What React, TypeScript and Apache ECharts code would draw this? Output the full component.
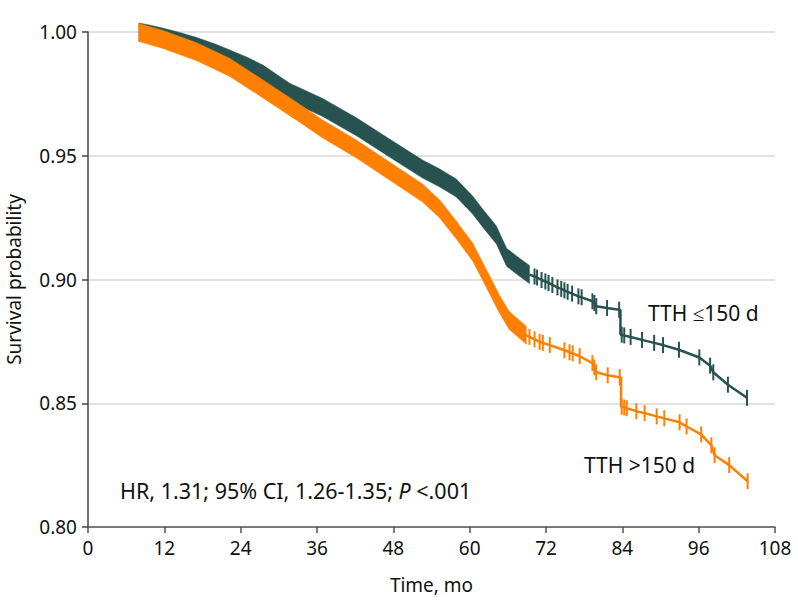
import React, { useEffect, useRef } from "react";
import * as echarts from "echarts";

// ---- data ----
const xTickMonths = [0, 12, 24, 36, 48, 60, 72, 84, 96, 108];
const yTickValues = [0.8, 0.85, 0.9, 0.95, 1.0];

// Dense censoring region (drawn as a solid band): [month, survival]
const greenBand: [number, number][] = [
  [8.0, 1.0], [10.0, 0.999], [12.0, 0.9978], [14.4, 0.9962], [17.0, 0.9942],
  [20.0, 0.9915], [22.3, 0.9891], [25.0, 0.9862], [27.5, 0.983], [29.5, 0.9795],
  [31.7, 0.9757], [36.9, 0.9695], [42.2, 0.9617], [47.4, 0.9531], [52.6, 0.9446],
  [55.3, 0.941], [57.9, 0.937], [60.5, 0.93], [62.0, 0.925], [64.2, 0.918],
  [65.8, 0.909], [67.3, 0.906], [69.4, 0.902],
];
const orangeBand: [number, number][] = [
  [8.0, 0.9998], [11.8, 0.997], [17.1, 0.992], [22.3, 0.9857], [27.5, 0.977],
  [32.8, 0.968], [36.9, 0.9608], [42.2, 0.9527], [47.4, 0.9438], [52.6, 0.9349],
  [55.3, 0.9285], [57.9, 0.92], [60.5, 0.911], [62.0, 0.9035], [64.7, 0.89],
  [66.2, 0.8835], [68.9, 0.8775],
];

// Sparse tail: [month, survival, censor tick (1) or not (0)]
const greenTail: [number, number, number][] = [
  [69.4, 0.902, 0], [70.2, 0.9012, 1], [70.6, 0.9008, 1], [71.3, 0.8998, 1],
  [71.9, 0.8992, 1], [72.4, 0.8986, 1], [73.0, 0.8978, 1], [73.8, 0.8968, 1],
  [74.4, 0.8962, 1], [74.9, 0.8956, 1], [75.4, 0.895, 1], [76.1, 0.8943, 1],
  [77.1, 0.8932, 1], [77.6, 0.8928, 1], [79.3, 0.8912, 1], [79.6, 0.8905, 1],
  [79.9, 0.8892, 1], [81.6, 0.8885, 1], [83.5, 0.8878, 1], [83.7, 0.8876, 0],
  [83.7, 0.8778, 0], [83.9, 0.8777, 1], [84.3, 0.8774, 1], [85.3, 0.8768, 1],
  [87.1, 0.8756, 1], [89.0, 0.8744, 1], [90.4, 0.8735, 1], [92.9, 0.8716, 1],
  [96.1, 0.8685, 1], [97.8, 0.8652, 1], [98.3, 0.8625, 1], [100.6, 0.8575, 1],
  [103.6, 0.8522, 1],
];
const orangeTail: [number, number, number][] = [
  [68.9, 0.8775, 0], [69.4, 0.8768, 1], [70.2, 0.8758, 1], [71.0, 0.8748, 1],
  [71.5, 0.8744, 1], [72.6, 0.8735, 1], [74.9, 0.8714, 1], [75.7, 0.8706, 1],
  [76.2, 0.8702, 1], [77.3, 0.869, 1], [79.3, 0.8662, 1], [79.6, 0.8645, 1],
  [79.9, 0.8625, 1], [81.7, 0.8613, 1], [83.6, 0.8605, 1], [83.8, 0.8603, 0],
  [83.8, 0.8487, 0], [83.9, 0.8486, 1], [84.3, 0.8483, 1], [84.7, 0.848, 1],
  [86.2, 0.8468, 1], [87.5, 0.846, 1], [89.4, 0.8447, 1], [90.6, 0.8439, 1],
  [93.0, 0.8423, 1], [94.1, 0.8406, 1], [96.4, 0.8374, 1], [98.0, 0.833, 1],
  [98.5, 0.829, 1], [100.8, 0.825, 1], [103.7, 0.8185, 1],
];

const GREEN = "#27524f";
const ORANGE = "#ff8000";
const FONT = "Noto Sans";
const INK = "#111111";

function bandSeries(name: string, data: [number, number][], color: string, z: number) {
  const HALF = 9;
  return {
    type: "custom",
    name,
    coordinateSystem: "cartesian2d",
    data: [data[0]],
    encode: { x: 0, y: 1 },
    z,
    silent: true,
    renderItem: (params: any, api: any) => {
      if (params.dataIndex !== 0) return null;
      const pts = data.map((d) => api.coord([d[0], d[1]]));
      const upper = pts.map((p: number[]) => [p[0], p[1] - HALF]);
      const lower = pts.map((p: number[]) => [p[0], p[1] + HALF]).reverse();
      return {
        type: "polygon",
        shape: { points: upper.concat(lower) },
        style: { fill: color, stroke: color, lineWidth: 0.5 },
      };
    },
  };
}

function tailSeries(name: string, data: [number, number, number][], color: string, z: number) {
  return {
    type: "line",
    name,
    z,
    silent: true,
    showAllSymbol: true,
    data: data.map(([m, v, t]) => ({
      value: [m, v],
      symbol: t ? "rect" : "none",
    })),
    symbolSize: [2, 16],
    itemStyle: { color, borderWidth: 0 },
    lineStyle: { color, width: 2.5 },
  };
}

export default function App() {
  const ref = useRef<HTMLDivElement>(null);
  useEffect(() => {
    if (!ref.current) return;
    const chart = echarts.init(ref.current, undefined, { renderer: "svg" });
    chart.setOption({
      animation: false,
      backgroundColor: "#ffffff",
      textStyle: { fontFamily: FONT },
      grid: {
        left: 88,
        right: 23,
        top: 32,
        bottom: 85,
        containLabel: false,
        outerBoundsMode: "none",
      },
      xAxis: {
        type: "value",
        min: xTickMonths[0],
        max: xTickMonths[xTickMonths.length - 1],
        interval: 12,
        name: "Time, mo",
        nameLocation: "middle",
        nameGap: 48,
        nameTextStyle: { fontSize: 19, color: INK, fontFamily: FONT },
        axisLine: { show: true, lineStyle: { color: "#555", width: 1.5 } },
        axisTick: { show: true, length: 6, lineStyle: { color: "#555", width: 1.5 } },
        axisLabel: { fontSize: 19, color: INK, margin: 11, fontFamily: FONT },
        splitLine: { show: false },
      },
      yAxis: {
        type: "value",
        min: yTickValues[0],
        max: yTickValues[yTickValues.length - 1],
        interval: 0.05,
        name: "Survival probability",
        nameLocation: "middle",
        nameGap: 65,
        nameTextStyle: { fontSize: 19, color: INK, fontFamily: FONT },
        axisLine: { show: true, lineStyle: { color: "#444", width: 1.5 } },
        axisTick: { show: true, length: 6, lineStyle: { color: "#444", width: 1.5 } },
        axisLabel: {
          fontSize: 19,
          color: INK,
          margin: 11,
          fontFamily: FONT,
          formatter: (v: number) => v.toFixed(2),
        },
        splitLine: { show: true, lineStyle: { color: "#d9d9d9", width: 1.5 } },
      },
      series: [
        bandSeries("TTH ≤150 d band", greenBand, GREEN, 2),
        tailSeries("TTH ≤150 d", greenTail, GREEN, 3),
        bandSeries("TTH >150 d band", orangeBand, ORANGE, 4),
        tailSeries("TTH >150 d", orangeTail, ORANGE, 5),
      ],
      graphic: [
        {
          type: "text",
          x: 648,
          y: 313,
          style: {
            text: "TTH ≤150 d",
            fontSize: 21,
            fontFamily: FONT,
            fill: INK,
            align: "left",
            verticalAlign: "middle",
          },
        },
        {
          type: "text",
          x: 584,
          y: 465,
          style: {
            text: "TTH >150 d",
            fontSize: 21,
            fontFamily: FONT,
            fill: INK,
            align: "left",
            verticalAlign: "middle",
          },
        },
        {
          type: "text",
          x: 120,
          y: 490,
          style: {
            text: "{a|HR, 1.31; 95% CI, 1.26-1.35; }{b|P}{a| <.001}",
            align: "left",
            verticalAlign: "middle",
            rich: {
              a: { fontSize: 21.5, fontFamily: FONT, fill: INK },
              b: { fontSize: 21.5, fontFamily: FONT, fill: INK, fontStyle: "italic" },
            },
          },
        },
      ],
    });
    return () => chart.dispose();
  }, []);
  return (
    <div
      ref={ref}
      style={{ position: "fixed", left: 0, top: 0, width: 798, height: 612 }}
    />
  );
}
